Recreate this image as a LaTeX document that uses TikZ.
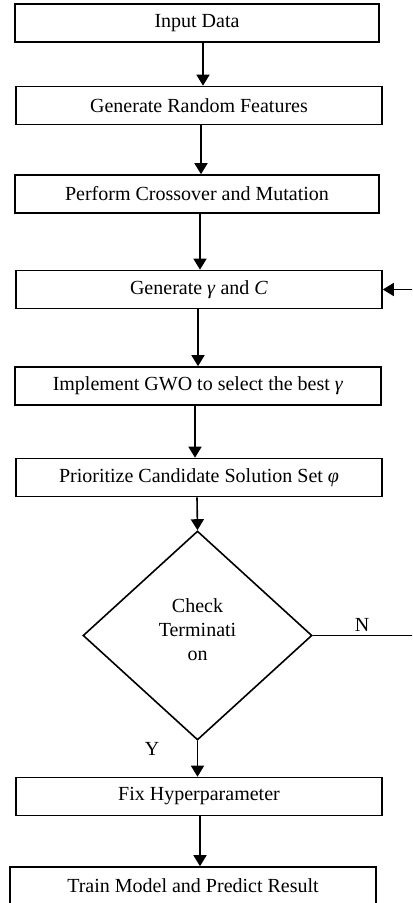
\documentclass[tikz,border=0pt]{standalone}
\usepackage{fontspec}
\setmainfont{Liberation Serif}
\usetikzlibrary{arrows.meta,shapes.geometric}

\begin{document}
\begin{tikzpicture}[x=0.5pt,y=0.5pt,yscale=-1,xscale=1,
  stepbox/.style={draw,line width=0.8pt,rectangle,minimum width=183pt,minimum height=19pt,inner sep=0pt,font=\fontsize{10}{12}\selectfont},
  decision/.style={draw,line width=0.8pt,diamond,aspect=1.1,minimum width=114.5pt,minimum height=104.5pt,inner sep=0pt,align=center,font=\fontsize{10}{12}\selectfont},
  flow/.style={line width=0.8pt,-{Triangle[length=5.5pt,width=6.5pt]}},
  tag/.style={inner sep=0.75pt,font=\fontsize{10}{12}\selectfont}]
%set diagram size and cut what runs past the edge
\useasboundingbox (0,0) rectangle (412,903);
\clip (0,0) rectangle (412,903);

% Process Boxes
\node [stepbox,minimum width=182pt] (inp) at (197,23) {Input Data};
\node [stepbox] (rnd) at (199,105.5) {Generate Random Features};
\node [stepbox,minimum width=182pt] (cross) at (197,194) {Perform Crossover and Mutation};
\node [stepbox] (gen) at (199,289.5) {Generate \textit{γ} and \textit{C}};
\node [stepbox] (gwo) at (198,386) {Implement GWO to select the best \textit{γ}};
\node [stepbox] (prio) at (199,477.5) {Prioritize Candidate Solution Set \textit{φ}};
% Decision
\node [decision] (chk) at (197.5,635.5) {Check\\Terminati\\on\\[-6pt]};
\node [stepbox] (fix) at (199,796.5) {Fix Hyperparameter};
\node [stepbox] (train) at (193,886) {Train Model and Predict Result};

% Text Node
\node [tag] (lblN) at (362,625) {N};
% Text Node
\node [tag] (lblY) at (152,749) {Y};

% loop corners, outside the right edge
\coordinate (loopB) at (420,635.5);
\coordinate (loopT) at (420,289.5);

%Straight Lines
\draw [flow] (inp.south -| 203,0) -- (rnd.north -| 203,0);
\draw [flow] (rnd.south -| 201,0) -- (cross.north -| 201,0);
\draw [flow] (cross.south -| 200,0) -- (gen.north -| 200,0);
\draw [flow] (gen.south -| 198,0) -- (gwo.north -| 198,0);
\draw [flow] (gwo.south -| 195,0) -- (prio.north -| 195,0);
\draw [flow] (prio.south -| 197,0) -- (chk.north);
\draw [flow] (chk.south) -- (fix.north -| chk.south);
\draw [flow] (fix.south -| 200,0) -- (train.north -| 200,0);
%Feedback Line
\draw [flow] (chk.east) -- (loopB) -- (loopT) -- (gen.east);

\end{tikzpicture}
\end{document}
